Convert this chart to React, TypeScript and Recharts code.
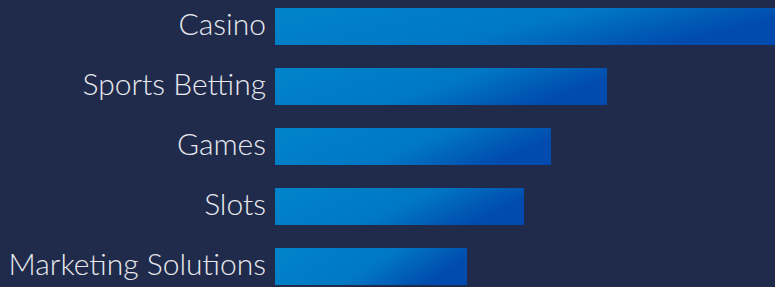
import React from "react";
import { BarChart, Bar, XAxis, YAxis } from "recharts";

const categories = ["Casino", "Sports Betting", "Games", "Slots", "Marketing Solutions"];
const values = [100, 66.4, 55.2, 49.8, 38.4];

const data = categories.map((name, i) => ({ name, value: values[i] }));

const Tick = (props: any) => {
  const { x, y, payload } = props;
  return (
    <text
      x={x + 7}
      y={y - 3}
      textAnchor="end"
      dominantBaseline="central"
      fill="#E8EAF0"
      fontSize={30}
      fontWeight={300}
      fontFamily="Lato, sans-serif"
    >
      {payload.value}
    </text>
  );
};

export default function App() {
  return (
    <div
      style={{
        position: "fixed",
        left: 0,
        top: 0,
        width: 775,
        height: 287,
        overflow: "hidden",
        background: "#202A4A",
      }}
    >
      <div style={{ position: "absolute", left: 0, top: -4 }}>
        <BarChart
          width={775}
          height={300}
          data={data}
          layout="vertical"
          margin={{ top: 0, right: 0, left: 0, bottom: 0 }}
        >
          <defs>
            <linearGradient id="barGrad" x1="0" y1="0" x2="1" y2="0.3">
              <stop offset="0" stopColor="#0084CA" />
              <stop offset="0.6" stopColor="#0077C4" />
              <stop offset="1" stopColor="#004BAD" />
            </linearGradient>
          </defs>
          <XAxis type="number" domain={[0, 100]} hide />
          <YAxis
            type="category"
            dataKey="name"
            width={275}
            axisLine={false}
            tickLine={false}
            tickMargin={10}
            tick={<Tick />}
            interval={0}
          />
          <Bar dataKey="value" fill="url(#barGrad)" barSize={37} isAnimationActive={false} />
        </BarChart>
      </div>
    </div>
  );
}
